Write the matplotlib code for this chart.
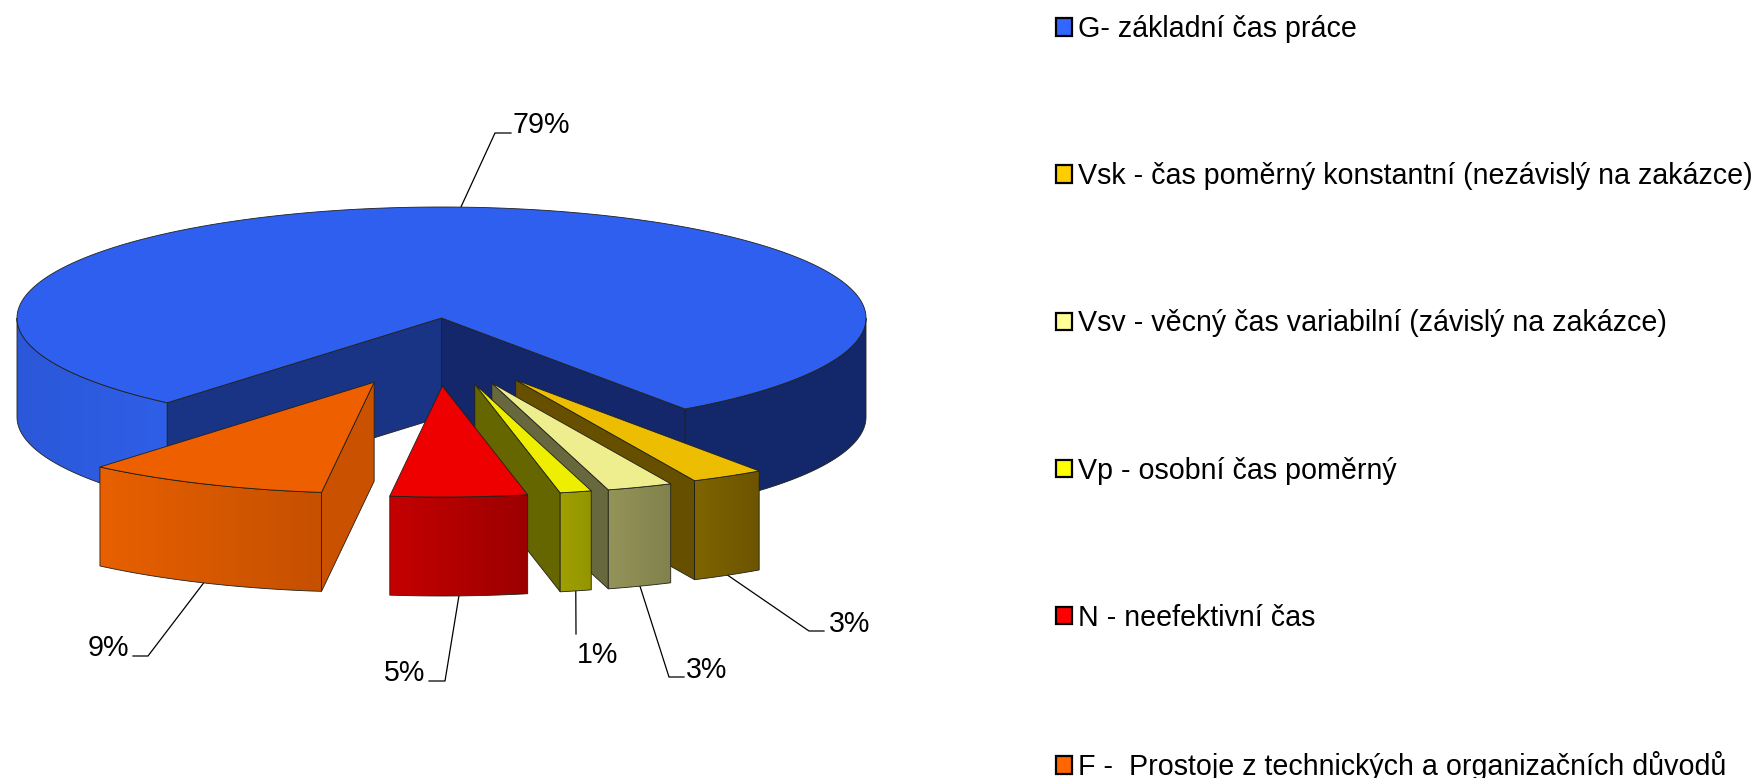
import numpy as np
import matplotlib
matplotlib.use("Agg")
import matplotlib.pyplot as plt
from matplotlib.patches import Patch, Polygon
from matplotlib.colors import to_rgb

# ---- data ----
categories = ["G- základní čas práce",
              "Vsk - čas poměrný konstantní (nezávislý na zakázce)",
              "Vsv - věcný čas variabilní (závislý na zakázce)",
              "Vp - osobní čas poměrný",
              "N - neefektivní čas",
              "F -  Prostoje z technických a organizačních důvodů"]
values = [79.1, 2.8, 2.5, 1.2, 5.2, 9.2]
percent_labels = ["79%", "3%", "3%", "1%", "5%", "9%"]

# ---- style ----
legend_colors = ["#3366ff", "#ffcc00", "#ffff99", "#ffff00", "#ff0000", "#ff6600"]
top_colors = ["#2f5fee", "#ecbd00", "#eeee8e", "#eeee00", "#ee0000", "#ee5f00"]
side_colors = [None, "#665000", "#68683f", "#666600", "#660000", "#c95100"]
wall_left = [None, "#806400", "#949459", "#a0a000", "#c40000", "#e86000"]
wall_right = [None, "#6c5400", "#81814d", "#949400", "#9c0000", "#c55000"]
EDGE = "#20201c"
FONT_SIZE = 20.6

# ---- layout (figure pixels) ----
CX, CY, RX, RY, DEPTH = 441.5, 318.0, 424.5, 111.0, 99.0
END_ANGLE_G = -55.0
explode_x = [0, 0.35, 0.34, 0.33, 0.05, 0.395]
explode_y = [0, 0.645, 0.626, 0.613, 0.613, 0.632]
elbow_x = [495, 809, 669, 576, 445, 148]
elbow_y = [133, 631, 677, 634, 681, 656]
stub_x = [511, 824, 684, 576, 429, 133]
text_x = [512, 829, 686, 577, 384, 129]
text_y = [125, 624, 670, 655, 673, 648]
text_ha = ["left", "left", "left", "left", "left", "right"]

fig = plt.figure(figsize=(17.57, 7.78), dpi=100)
ax = fig.add_axes([0, 0, 1, 1])
FONT = "Liberation Sans"
draw_order = [2.0]


def next_z():
    draw_order[0] += 0.01
    return draw_order[0]


def rim(apex, deg, drop=0.0):
    a = np.radians(deg)
    return apex[0] + RX * np.cos(a), apex[1] - RY * np.sin(a) + drop


def arc(apex, a0, a1, drop=0.0):
    n = max(int(abs(a1 - a0) * 2), 2)
    return [rim(apex, d, drop) for d in np.linspace(a0, a1, n)]


def wall(apex, a0, a1, c0, c1):
    out = arc(apex, a0, a1) + arc(apex, a1, a0, DEPTH)
    xs = [p[0] for p in out]
    ys = [p[1] for p in out]
    ramp = np.linspace(0, 1, 256)[None, :, None]
    grad = np.array(to_rgb(c0))[None, None, :] * (1 - ramp) + np.array(to_rgb(c1))[None, None, :] * ramp
    z = next_z()
    im = ax.imshow(grad, extent=(min(xs), max(xs), max(ys), min(ys)), aspect="auto",
                   interpolation="bilinear", zorder=z)
    patch = Polygon(out, closed=True, fc="none", ec=EDGE, lw=0.6, zorder=z + 0.001)
    ax.add_patch(patch)
    im.set_clip_path(patch)


def face(apex, deg, color):
    r = rim(apex, deg)
    pts = [apex, r, (r[0], r[1] + DEPTH), (apex[0], apex[1] + DEPTH)]
    ax.add_patch(Polygon(pts, closed=True, fc=color, ec=EDGE, lw=0.6, zorder=next_z()))


def top(apex, a0, a1, color):
    pts = [apex] + arc(apex, a0, a1)
    ax.add_patch(Polygon(pts, closed=True, fc=color, ec=EDGE, lw=0.6, zorder=next_z()))


spans = np.array(values) / sum(values) * 360.0
# slices run clockwise; G ends at END_ANGLE_G, the rest follow it
upper = [END_ANGLE_G + spans[0]]
lower = [END_ANGLE_G]
for s in spans[1:]:
    upper.append(lower[-1])
    lower.append(lower[-1] - s)

apexes = []
for i in range(len(values)):
    mid = np.radians((upper[i] + lower[i]) / 2)
    apexes.append((CX + explode_x[i] * RX * np.cos(mid),
                   CY - explode_y[i] * RY * np.sin(mid)))

# main slice
main = apexes[0]
wall(main, 180.0, upper[0], "#2b58d8", "#2f5fe8")
wall(main, END_ANGLE_G, 0.0, "#13286a", "#13286a")
face(main, upper[0], "#1a3485")
face(main, lower[0], "#13276a")
top(main, lower[0], upper[0], top_colors[0])

# exploded slices, from right to left then outward to the viewer
for i in [1, 2, 3, 4, 5]:
    ap = apexes[i]
    # a radial face shows when its outward normal points towards the viewer
    if np.sin(np.radians(lower[i] - 90)) < 0:
        face(ap, lower[i], side_colors[i])
    if np.sin(np.radians(upper[i] + 90)) < 0:
        face(ap, upper[i], side_colors[i])
    wall(ap, lower[i], upper[i], wall_left[i], wall_right[i])
    top(ap, lower[i], upper[i], top_colors[i])

# leader lines and percent labels
for i in range(len(values)):
    mid = (upper[i] + lower[i]) / 2
    drop = 0 if i == 0 else DEPTH
    sx, sy = rim(apexes[i], mid, drop)
    ax.plot([sx, elbow_x[i], stub_x[i]], [sy, elbow_y[i], elbow_y[i]],
            color="black", lw=0.9, solid_joinstyle="miter", zorder=1.5)
    ax.text(text_x[i], text_y[i], percent_labels[i], ha=text_ha[i], va="center",
            fontsize=FONT_SIZE, family=FONT, color="black")

ax.set_xlim(0, 1757)
ax.set_ylim(778, 0)
ax.axis("off")

handles = [Patch(facecolor=c, edgecolor="black", linewidth=1.6) for c in legend_colors]
leg = ax.legend(handles, categories, loc="upper left",
                bbox_to_anchor=(1056 / 1757, 1 - 15 / 778),
                bbox_transform=fig.transFigure, frameon=False,
                prop={"family": FONT, "size": FONT_SIZE},
                borderpad=0, borderaxespad=0, handlelength=0.56, handleheight=0.56,
                handletextpad=0.2, labelspacing=4.167)
leg.set_zorder(10)
fig.savefig("out.png", dpi=100, facecolor="white")
